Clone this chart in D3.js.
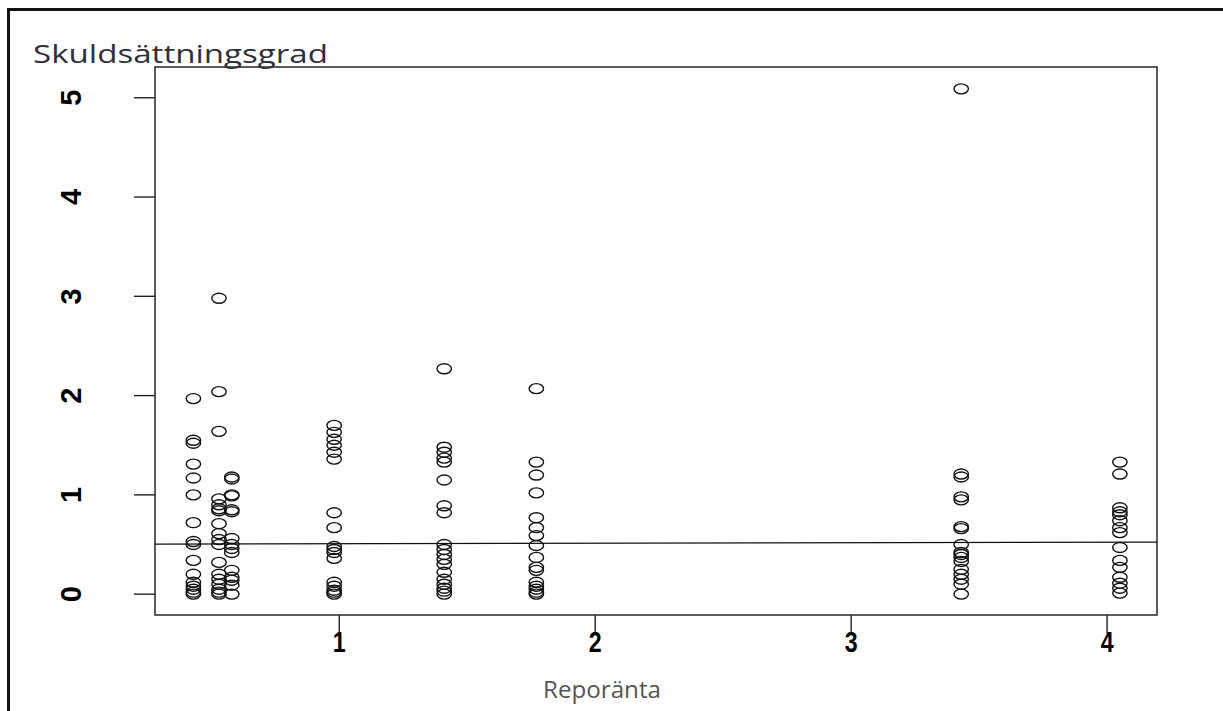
<!DOCTYPE html>
<html>
<head>
<meta charset="utf-8">
<title>Skuldsättningsgrad mot reporänta</title>
<script src="https://cdn.jsdelivr.net/npm/d3@7"></script>
<style>
  body { margin: 0; background: #fff; }
  svg { display: block; }
  .tick-lab { font-family: "Liberation Sans Narrow", "Liberation Sans", Arial, sans-serif; font-weight: bold; fill: #000; }
  .ttl { font-family: "Open Sans", "Noto Sans", sans-serif; }
</style>
</head>
<body>
<svg id="svg" width="1223" height="711"></svg>
<script>
// x position of each cluster (reporänta)
var rates = [0.43, 0.53, 0.58, 0.98, 1.41, 1.77, 3.43, 4.05];
// skuldsättningsgrad values, one list per cluster
var debt043 = [1.97, 1.55, 1.52, 1.31, 1.17, 1.0, 0.72, 0.53, 0.5, 0.34, 0.2, 0.12, 0.08, 0.05, 0.02, 0.0];
var debt053 = [2.98, 2.04, 1.64, 0.96, 0.9, 0.86, 0.84, 0.71, 0.61, 0.55, 0.5, 0.32, 0.2, 0.15, 0.1, 0.05, 0.02, 0.0];
var debt058 = [1.18, 1.16, 1.0, 0.99, 0.85, 0.83, 0.56, 0.5, 0.46, 0.42, 0.24, 0.17, 0.14, 0.09, 0.0];
var debt098 = [1.7, 1.63, 1.56, 1.5, 1.43, 1.36, 0.82, 0.67, 0.48, 0.45, 0.42, 0.36, 0.12, 0.08, 0.04, 0.02, 0.0];
var debt141 = [2.27, 1.48, 1.43, 1.37, 1.33, 1.15, 0.89, 0.82, 0.5, 0.45, 0.4, 0.35, 0.3, 0.22, 0.15, 0.1, 0.06, 0.03, 0.0];
var debt177 = [2.07, 1.33, 1.2, 1.02, 0.77, 0.67, 0.59, 0.49, 0.37, 0.27, 0.24, 0.12, 0.08, 0.05, 0.02, 0.0];
var debt343 = [5.09, 1.21, 1.18, 0.98, 0.95, 0.68, 0.66, 0.5, 0.42, 0.4, 0.37, 0.33, 0.25, 0.2, 0.15, 0.1, 0.0];
var debt405 = [1.33, 1.21, 0.87, 0.83, 0.8, 0.74, 0.67, 0.62, 0.47, 0.34, 0.27, 0.17, 0.11, 0.06, 0.01];
var clusters = [debt043, debt053, debt058, debt098, debt141, debt177, debt343, debt405];

// fitted line (ends)
var fitX = [0.28, 4.195];
var fitY = [0.504, 0.524];

var xTicks = [1, 2, 3, 4];
var yTicks = [0, 1, 2, 3, 4, 5];

var svg = d3.select('#svg');

var x = d3.scaleLinear().domain([0.28, 4.195]).range([155, 1157]);
var y = d3.scaleLinear().domain([-0.21, 5.31]).range([615, 67]);

// outer frame (top and left edges)
svg.append('line').attr('x1', 7).attr('x2', 1223).attr('y1', 9.5).attr('y2', 9.5)
    .attr('stroke', '#111').attr('stroke-width', 3);
svg.append('line').attr('x1', 8.5).attr('x2', 8.5).attr('y1', 8).attr('y2', 711)
    .attr('stroke', '#111').attr('stroke-width', 3);

// plot box
svg.append('rect').attr('x', 155).attr('y', 67).attr('width', 1002).attr('height', 548)
    .attr('fill', 'none').attr('stroke', '#333').attr('stroke-width', 1.6);

// x axis
var xAxis = svg.append('g');
xAxis.selectAll('line').data(xTicks).enter().append('line')
    .attr('x1', function(d){ return x(d); }).attr('x2', function(d){ return x(d); })
    .attr('y1', 615).attr('y2', 634).attr('stroke', '#222').attr('stroke-width', 1.4);
xAxis.selectAll('text').data(xTicks).enter().append('text')
    .attr('class', 'tick-lab')
    .attr('font-size', 29)
    .attr('text-anchor', 'middle')
    .attr('transform', function(d){ return 'translate(' + x(d) + ',652) scale(0.8,1)'; })
    .text(function(d){ return d; });

// y axis
var yAxis = svg.append('g');
yAxis.selectAll('line').data(yTicks).enter().append('line')
    .attr('x1', 134).attr('x2', 155)
    .attr('y1', function(d){ return y(d); }).attr('y2', function(d){ return y(d); })
    .attr('stroke', '#222').attr('stroke-width', 1.4);
yAxis.selectAll('text').data(yTicks).enter().append('text')
    .attr('class', 'tick-lab')
    .attr('font-size', 29)
    .attr('text-anchor', 'middle')
    .attr('transform', function(d){ return 'translate(71,' + y(d) + ') rotate(-90)'; })
    .attr('dy', '0.36em')
    .text(function(d){ return d; });

// titles
svg.append('text').attr('class', 'ttl').attr('x', 33).attr('y', 63)
    .attr('font-size', 25)
    .attr('textLength', 295).attr('lengthAdjust', 'spacingAndGlyphs')
    .attr('fill', '#2f2f3a').text('Skuldsättningsgrad');
svg.append('text').attr('class', 'ttl').attr('x', 543).attr('y', 698)
    .attr('font-size', 23)
    .attr('textLength', 118).attr('lengthAdjust', 'spacingAndGlyphs')
    .attr('fill', '#555').text('Reporänta');

// fitted line
svg.append('line')
    .attr('x1', x(fitX[0])).attr('x2', x(fitX[1]))
    .attr('y1', y(fitY[0])).attr('y2', y(fitY[1]))
    .attr('stroke', '#111').attr('stroke-width', 1.3);

// points
var pts = [];
clusters.forEach(function(vals, i){
    vals.forEach(function(v){ pts.push({r: rates[i], d: v}); });
});
svg.append('g').selectAll('ellipse').data(pts).enter().append('ellipse')
    .attr('cx', function(d){ return x(d.r); })
    .attr('cy', function(d){ return y(d.d); })
    .attr('rx', 7.2).attr('ry', 5)
    .attr('fill', 'none').attr('stroke', '#111').attr('stroke-width', 1.4);
</script>
</body>
</html>
